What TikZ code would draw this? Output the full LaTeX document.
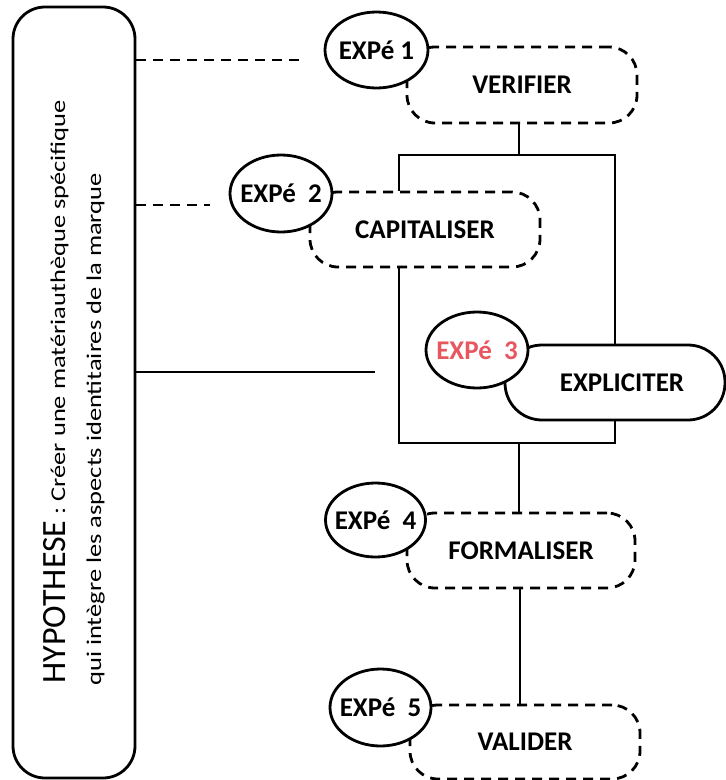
\documentclass[tikz,border=0pt]{standalone}
\usepackage{fontspec}
\setmainfont{Carlito}
\newfontfamily\stretchfont[FakeStretch=1.26]{Carlito}
\usetikzlibrary{shapes.geometric}
\definecolor{expred}{RGB}{232,86,96}
\tikzset{
  lbl/.style={font=\bfseries\fontsize{27}{32}\selectfont},
  dbox/.style={draw, line width=2.8pt, dash pattern=on 10pt off 7pt, rounded corners=28pt, fill=white, inner sep=0pt, lbl},
  sbox/.style={draw, line width=2.8pt, rounded corners=37pt, fill=white, inner sep=0pt, lbl},
  expe/.style={draw, line width=2.8pt, ellipse, fill=white, inner sep=0pt, lbl},
  link/.style={line width=2.8pt},
  dlink/.style={line width=2.8pt, dash pattern=on 10pt off 7pt},
}
\begin{document}
\begin{tikzpicture}[x=1pt,y=-1pt,line width=2.8pt]
\useasboundingbox (0,0) rectangle (726,780);
% hypothesis box
\node[draw, line width=2.8pt, rounded corners=32pt, minimum width=122pt, minimum height=771pt, inner sep=0pt] (hyp) at (74,392.5) {};
\node[rotate=90, anchor=base west, inner sep=0pt] (hypa) at (65,685)
  {\fontsize{34}{40}\selectfont HYPOTHESE{\stretchfont\fontsize{21}{24}\selectfont{} : Créer une matériauthèque spécifique}};
\node[rotate=90, anchor=base west, inner sep=0pt] (hypb) at (101,687)
  {\stretchfont\fontsize{21}{24}\selectfont qui intègre les aspects identitaires de la marque};
% step boxes
\node[dbox, minimum width=230pt, minimum height=76pt] (ver) at (522,85) {VERIFIER};
\node[dbox, minimum width=230pt, minimum height=75pt] (cap) at (425,229.5) {CAPITALISER};
\node[sbox, minimum width=220pt, minimum height=75pt] (expl) at (615,382.5) {\hspace*{14pt}EXPLICITER};
\node[dbox, minimum width=228pt, minimum height=75pt] (form) at (521,550.5) {FORMALISER};
\node[dbox, minimum width=230pt, minimum height=74pt] (val) at (525,742) {VALIDER};
% experiments
\node[expe, minimum width=103pt, minimum height=76pt] (e1) at (376.5,50) {\makebox[0pt]{EXPé 1}};
\node[expe, minimum width=102pt, minimum height=77pt] (e2) at (281,193.5) {\makebox[0pt]{EXPé~~2}};
\node[expe, minimum width=102pt, minimum height=76pt] (e3) at (477,350) {\makebox[0pt]{\color{expred}EXPé~~3}};
\node[expe, minimum width=100pt, minimum height=74pt] (e4) at (375.5,520) {\makebox[0pt]{EXPé~~4}};
\node[expe, minimum width=101pt, minimum height=77pt] (e5) at (380.5,707.5) {\makebox[0pt]{EXPé~~5}};
% connectors
\coordinate (d1) at (300,60);
\coordinate (d2) at (210,205);
\coordinate (s3) at (375,372);
\coordinate (ftl) at (399,155);
\coordinate (ftr) at (615,155);
\coordinate (fbl) at (399,443);
\coordinate (fbr) at (615,443);
\coordinate (mtop) at (519,155);
\coordinate (mbot) at (519,443);
\coordinate (vx) at (520,650);
\draw[dlink] (hyp.east |- d1) -- (d1);
\draw[dlink] (hyp.east |- d2) -- (d2);
\draw[link] (hyp.east |- s3) -- (s3);
\draw[link] (ver.south -| mtop) -- (mtop);
\draw[link] (cap.north -| ftl) -- (ftl) -- (ftr) -- (expl.north -| ftr);
\draw[link] (expl.south -| fbr) -- (fbr) -- (fbl) -- (cap.south -| fbl);
\draw[link] (mbot) -- (form.north -| mbot);
\draw[link] (form.south -| vx) -- (val.north -| vx);
\end{tikzpicture}
\end{document}
